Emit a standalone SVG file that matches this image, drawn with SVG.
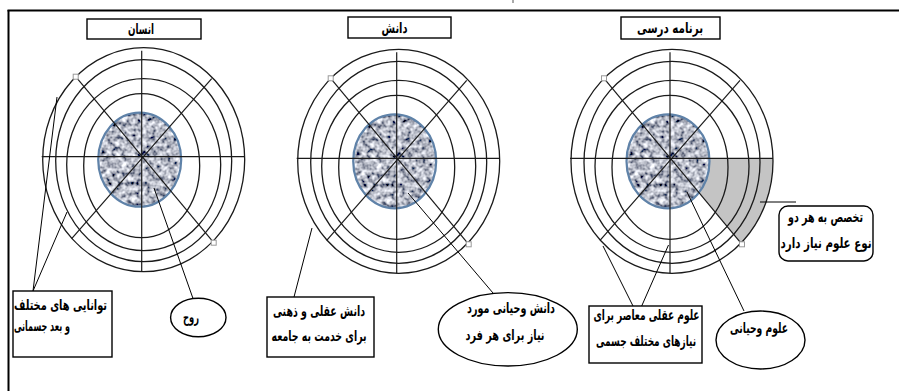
<svg xmlns="http://www.w3.org/2000/svg" xmlns:xlink="http://www.w3.org/1999/xlink" width="899" height="391" viewBox="0 0 899 391">
<style>
.frame{stroke:#000;stroke-width:2;fill:none}
.ring{fill:none;stroke:#1a1a1a;stroke-width:1.3}
.spoke{stroke:#1a1a1a;stroke-width:1.2}
.diskEdge{fill:none;stroke:#5f82a8;stroke-width:2.2}
.box{fill:#fff;stroke:#000;stroke-width:1.4}
.conn{stroke:#000;stroke-width:1;fill:none}
.handle{fill:#fff;stroke:#9a9a9a;stroke-width:1}
.lbl{font-family:"DejaVu Sans","Noto Sans",sans-serif;font-weight:bold;font-size:14.5px;fill:#000;text-anchor:middle}
</style>
<defs>
<filter id="tex" x="-5%" y="-5%" width="110%" height="110%">
<feTurbulence type="fractalNoise" baseFrequency="0.2" numOctaves="2" seed="7" result="n"/>
<feColorMatrix in="n" type="matrix" values="1.9 0 0 0 -0.47  1.9 0 0 0 -0.45  1.9 0 0 0 -0.38  0 0 0 0 1" result="g"/>
<feGaussianBlur in="g" stdDeviation="0.5" result="b"/>
<feComposite in="b" in2="SourceGraphic" operator="in"/>
</filter>
<g id="target">
<ellipse cx="-2" cy="3" rx="41.5" ry="47" fill="#999" filter="url(#tex)"/>
<ellipse class="diskEdge" cx="-2" cy="3" rx="41.5" ry="47"/>
<ellipse class="ring" cx="2" cy="3" rx="101" ry="112"/>
<ellipse class="ring" cx="2" cy="4" rx="88" ry="101"/>
<ellipse class="ring" cx="2" cy="8" rx="77" ry="86"/>
<ellipse class="ring" cx="0" cy="9" rx="58" ry="72"/>
<line class="spoke" x1="-100" y1="0" x2="103" y2="0"/>
<line class="spoke" x1="0" y1="-106" x2="0" y2="115"/>
<line class="spoke" x1="-66" y1="-80" x2="72" y2="86"/>
<line class="spoke" x1="70" y1="-78" x2="-70" y2="82"/>
<rect class="handle" x="-68.5" y="-82.5" width="5" height="5"/>
<rect class="handle" x="69.5" y="83.5" width="5" height="5"/>
</g>
<clipPath id="outer3"><ellipse cx="672" cy="161.3" rx="101" ry="112"/></clipPath>
</defs>
<rect x="0" y="0" width="899" height="391" fill="#fff"/>
<g id="frame">
<line class="frame" x1="7.5" y1="10.5" x2="899" y2="10.5"/>
<line class="frame" x1="8.5" y1="10" x2="8.5" y2="391"/>
<line x1="513" y1="0" x2="513" y2="3" stroke="#555" stroke-width="1"/>
</g>
<g id="wheel-ensan"><use xlink:href="#target" transform="translate(141.7,156.7)"/></g>
<g id="wheel-danesh"><use xlink:href="#target" transform="translate(396.7,158.3)"/></g>
<g id="wheel-barname">
<polygon points="670,158.3 800,158.3 800,313.6" fill="#c4c4c4" clip-path="url(#outer3)"/>
<use xlink:href="#target" transform="translate(670,158.3)"/>
</g>
<g id="connectors">
<line class="conn" x1="33" y1="291" x2="57" y2="97"/>
<line class="conn" x1="33" y1="291" x2="67" y2="212"/>
<line class="conn" x1="154" y1="188" x2="193" y2="298.5"/>
<line class="conn" x1="312" y1="228" x2="294" y2="297"/>
<line class="conn" x1="408" y1="193" x2="493" y2="293"/>
<line class="conn" x1="603" y1="246" x2="633" y2="306"/>
<line class="conn" x1="668.5" y1="245" x2="641.7" y2="306"/>
<line class="conn" x1="687" y1="192" x2="744" y2="311"/>
<line class="conn" x1="760" y1="202" x2="796" y2="202"/>
</g>
<g id="title-ensan">
<rect class="box" x="87" y="19" width="114" height="20"/>
<text class="lbl" x="141" y="34" textLength="26" lengthAdjust="spacingAndGlyphs">انسان</text>
</g>
<g id="title-danesh">
<rect class="box" x="348" y="17" width="103" height="21"/>
<text class="lbl" x="394.5" y="32.5" textLength="26" lengthAdjust="spacingAndGlyphs">دانش</text>
</g>
<g id="title-barname">
<rect class="box" x="621" y="17" width="99" height="22"/>
<text class="lbl" x="670" y="33" textLength="66" lengthAdjust="spacingAndGlyphs">برنامه درسی</text>
</g>
<g id="node-tavanaei">
<rect class="box" x="13" y="291" width="99" height="66"/>
<text class="lbl" x="60.5" y="310" textLength="93" lengthAdjust="spacingAndGlyphs">توانایی های مختلف</text>
<text class="lbl" x="42" y="331" textLength="56" lengthAdjust="spacingAndGlyphs">و بعد جسمانی</text>
</g>
<g id="node-rooh">
<ellipse class="box" cx="198.3" cy="317.5" rx="27.7" ry="19.2"/>
<text class="lbl" x="191" y="321.5" textLength="16" lengthAdjust="spacingAndGlyphs">روح</text>
</g>
<g id="node-danesh-aqli">
<rect class="box" x="267" y="297" width="107" height="60"/>
<text class="lbl" x="319" y="316" textLength="92" lengthAdjust="spacingAndGlyphs">دانش عقلی و ذهنی</text>
<text class="lbl" x="319" y="341" textLength="95" lengthAdjust="spacingAndGlyphs">برای خدمت به جامعه</text>
</g>
<g id="node-danesh-vahyani">
<ellipse class="box" cx="507.8" cy="329.3" rx="69.5" ry="36.7"/>
<text class="lbl" x="511" y="312.5" textLength="88" lengthAdjust="spacingAndGlyphs">دانش وحیانی مورد</text>
<text class="lbl" x="505" y="339.5" textLength="79" lengthAdjust="spacingAndGlyphs">نیاز برای هر فرد</text>
</g>
<g id="node-oloom-aqli">
<rect class="box" x="589" y="306" width="113" height="57"/>
<text class="lbl" x="646.5" y="320" textLength="106" lengthAdjust="spacingAndGlyphs">علوم عقلی معاصر برای</text>
<text class="lbl" x="646" y="346" textLength="100" lengthAdjust="spacingAndGlyphs">نیازهای مختلف جسمی</text>
</g>
<g id="node-oloom-vahyani">
<ellipse class="box" cx="760.5" cy="340" rx="44.5" ry="29"/>
<text class="lbl" x="759" y="333" textLength="58" lengthAdjust="spacingAndGlyphs">علوم وحیانی</text>
</g>
<g id="node-takhasos">
<rect class="box" x="779" y="206" width="94" height="55" rx="9" ry="9"/>
<text class="lbl" x="825.5" y="221.5" textLength="75" lengthAdjust="spacingAndGlyphs">تخصص به هر دو</text>
<text class="lbl" x="826" y="248" textLength="91" lengthAdjust="spacingAndGlyphs">نوع علوم نیاز دارد</text>
</g>
</svg>
